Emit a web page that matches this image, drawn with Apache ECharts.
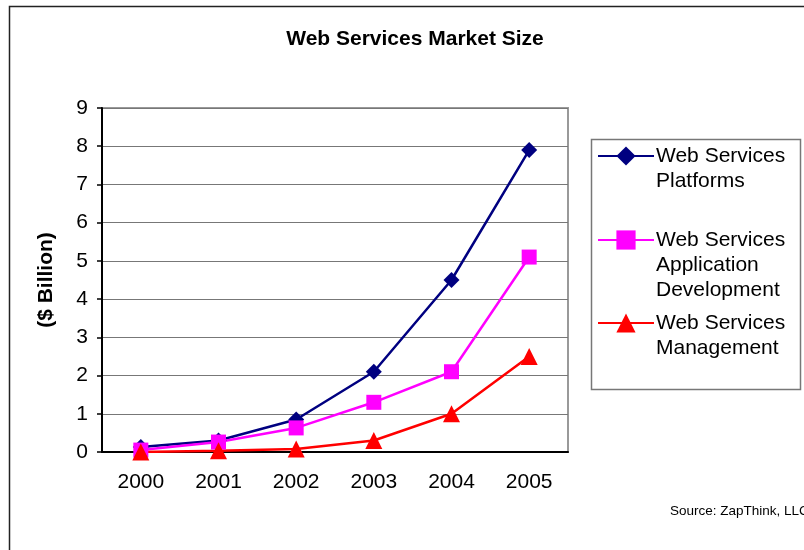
<!DOCTYPE html>
<html>
<head>
<meta charset="utf-8">
<script src="https://cdn.jsdelivr.net/npm/echarts@6/dist/echarts.min.js"></script>
<style>
  html, body { margin: 0; padding: 0; background: #fff; }
  #chart { width: 804px; height: 550px; }
</style>
</head>
<body>
<div id="chart"></div>
<script>
const years = ['2000', '2001', '2002', '2003', '2004', '2005'];
const platforms = [0.13, 0.3, 0.85, 2.1, 4.5, 7.9];
const appDev = [0.05, 0.26, 0.63, 1.3, 2.1, 5.1];
const management = [0.0, 0.03, 0.08, 0.3, 1.0, 2.5];

const names = ['Web Services\nPlatforms', 'Web Services\nApplication\nDevelopment', 'Web Services\nManagement'];
const font = '"Liberation Sans", Arial, sans-serif';

const chart = echarts.init(document.getElementById('chart'));

// one legend per item so the symbol lines up with the first text line
function legendFor(name, top) {
  const lines = name.split('\n').length;
  return {
    orient: 'vertical', left: 597, top: top, padding: 0,
    data: [name], itemWidth: 56, itemHeight: 24, itemGap: 0, selectedMode: false,
    formatter: n => '\n'.repeat(lines - 1) + n,
    textStyle: { fontFamily: font, fontSize: 21, lineHeight: 25, color: '#000', padding: [0, 0, 0, -3] }
  };
}

chart.setOption({
  animation: false,
  title: {
    text: 'Web Services Market Size', left: 410, top: 24, textAlign: 'center',
    textStyle: { fontFamily: font, fontSize: 21, fontWeight: 'bold', color: '#000' }
  },
  legend: [
    legendFor(names[0], 156 - 37.5),
    legendFor(names[1], 240 - 62.5),
    legendFor(names[2], 323 - 37.5)
  ],
  graphic: [
    { type: 'rect', shape: { x: 9.5, y: 6.5, width: 1200, height: 1200 }, style: { fill: 'none', stroke: '#222', lineWidth: 1.5 }, silent: true },
    { type: 'rect', shape: { x: 591.5, y: 139.5, width: 209, height: 250 }, style: { fill: 'none', stroke: '#777', lineWidth: 1.5 }, silent: true },
    { type: 'text', left: 670, top: 504, style: { text: 'Source: ZapThink, LLC', fontFamily: font, fontSize: 13.5, fill: '#000' } }
  ],
  grid: { left: 102, top: 108, right: 236, bottom: 98, show: true, borderColor: '#999', borderWidth: 2, containLabel: false },
  xAxis: {
    type: 'category', data: years, boundaryGap: true,
    axisLine: { lineStyle: { color: '#000', width: 2 } },
    axisTick: { length: 6, lineStyle: { color: '#000', width: 1.5 } },
    axisLabel: { fontFamily: font, fontSize: 21, color: '#000', margin: 20 }
  },
  yAxis: {
    type: 'value', min: 0, max: 9, interval: 1,
    name: '($ Billion)', nameLocation: 'middle', nameGap: 45, nameRotate: 90,
    nameTextStyle: { fontFamily: font, fontSize: 21, fontWeight: 'bold', color: '#000' },
    axisLine: { show: true, lineStyle: { color: '#000', width: 2 } },
    axisTick: { show: true, length: 5, lineStyle: { color: '#000', width: 1.5 } },
    axisLabel: { fontFamily: font, fontSize: 21, color: '#000', margin: 14 },
    splitLine: { lineStyle: { color: '#777', width: 1 } }
  },
  series: [
    { name: names[0], type: 'line', data: platforms, symbol: 'diamond', symbolSize: 16,
      lineStyle: { color: '#000080', width: 2.5 }, itemStyle: { color: '#000080' } },
    { name: names[1], type: 'line', data: appDev, symbol: 'rect', symbolSize: 15,
      lineStyle: { color: '#ff00ff', width: 2.5 }, itemStyle: { color: '#ff00ff' } },
    { name: names[2], type: 'line', data: management, symbol: 'triangle', symbolSize: 17,
      lineStyle: { color: '#ff0000', width: 2.5 }, itemStyle: { color: '#ff0000' } }
  ]
});
</script>
</body>
</html>
